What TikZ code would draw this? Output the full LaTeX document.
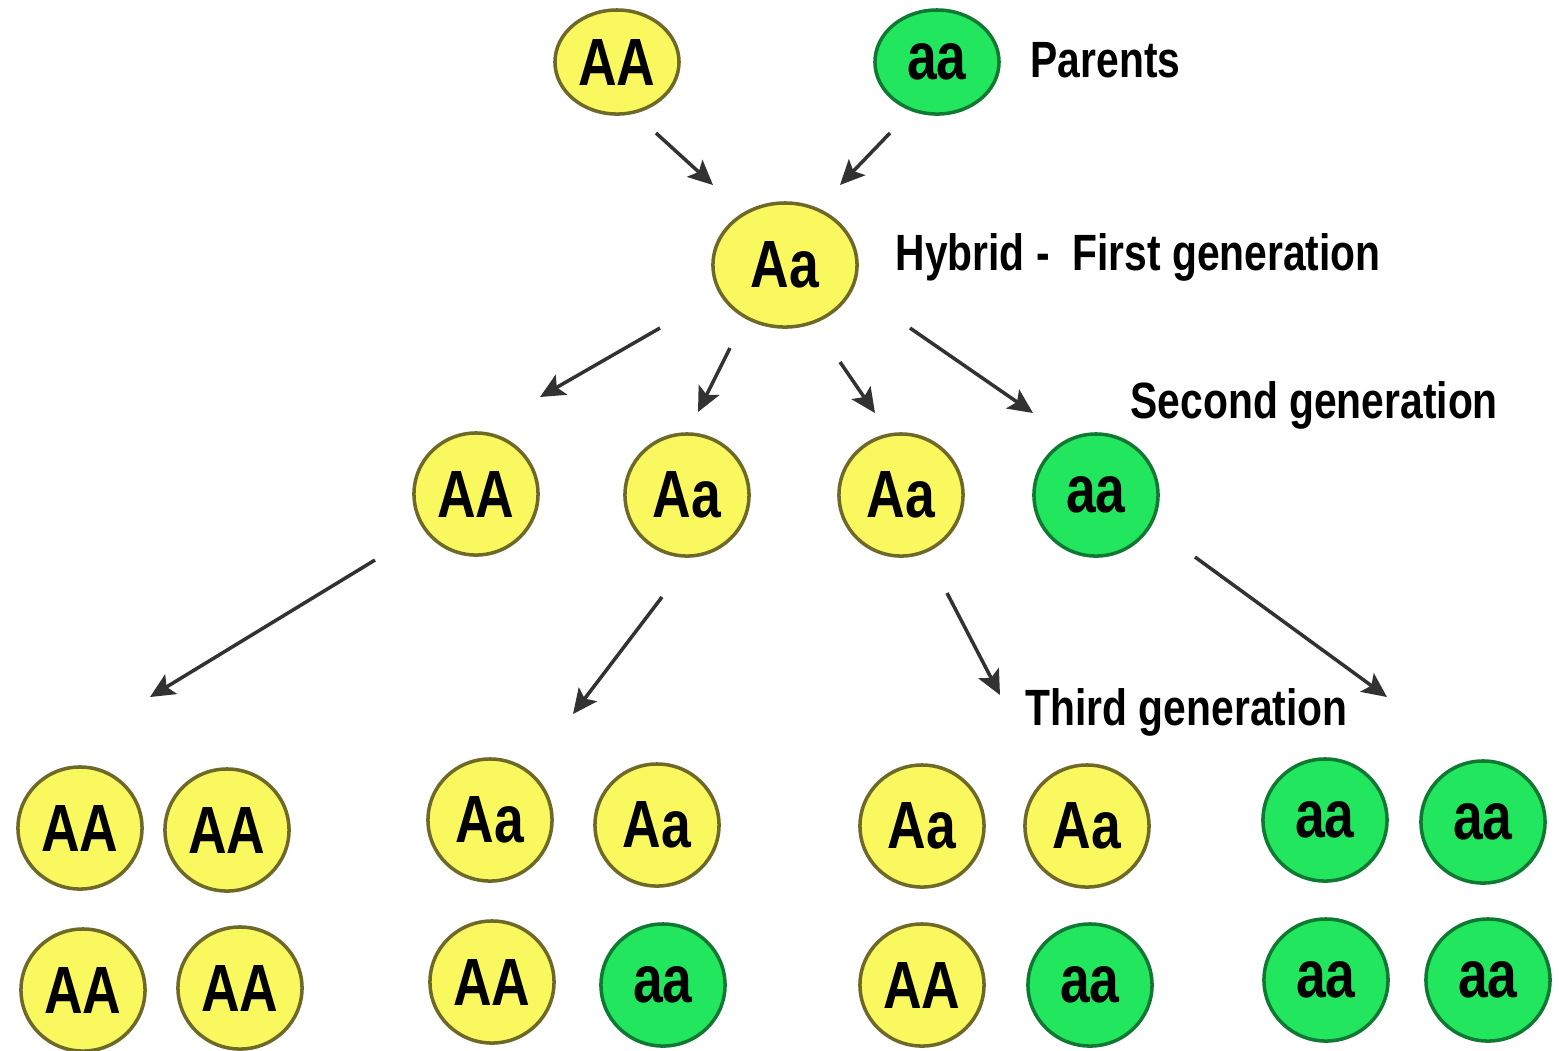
\documentclass[tikz,border=0pt]{standalone}
\usepackage{fontspec}
\setmainfont{Liberation Sans}[FakeStretch=0.8]
\usetikzlibrary{shapes.geometric,arrows.meta}
\definecolor{yfill}{RGB}{250,248,95}
\definecolor{ydraw}{RGB}{110,105,40}
\definecolor{gfill}{RGB}{35,230,95}
\definecolor{gdraw}{RGB}{15,120,50}
\definecolor{arr}{RGB}{50,50,50}
\tikzset{
  allele/.style={ellipse, inner sep=0pt, minimum width=1.24cm, minimum height=1.22cm,
     line width=1pt, font=\fontsize{19}{22}\selectfont\bfseries},
  dom/.style={allele, fill=yfill, draw=ydraw},
  rec/.style={allele, fill=gfill, draw=gdraw},
  lbl/.style={anchor=base west, inner sep=0pt, font=\fontsize{14.5}{17}\selectfont\bfseries},
  arrow/.style={draw=arr, line width=1pt, -{Stealth[length=7pt,width=6.5pt,inset=1.5pt]}}
}
\begin{document}
\begin{tikzpicture}[x=0.01cm,y=-0.01cm]
\useasboundingbox (0,0) rectangle (1559,1050);
% parents
\node[dom, minimum width=1.24cm, minimum height=1.04cm] (p1) at (617,62) {AA};
\node[rec, minimum width=1.24cm, minimum height=1.04cm] (p2) at (937,62) {aa};
\node[lbl] (tpar) at (1030,77) {Parents};
% hybrid
\node[dom, minimum width=1.44cm, minimum height=1.24cm] (h) at (785,265) {Aa};
\node[lbl] (thyb) at (895,270) {Hybrid -\ \ First generation};
% second gen
\node[dom] (s1) at (476,494) {AA};
\node[dom] (s2) at (687,495) {Aa};
\node[dom] (s3) at (901,495) {Aa};
\node[rec] (s4) at (1096,495) {aa};
\node[lbl] (tsec) at (1130,418) {Second generation};
% third gen
\node[dom] (t11) at (80,828) {AA};
\node[dom] (t12) at (227,830) {AA};
\node[dom] (t13) at (83,990) {AA};
\node[dom] (t14) at (240,988) {AA};
\node[dom] (t21) at (490,820) {Aa};
\node[dom] (t22) at (657,825) {Aa};
\node[dom] (t23) at (492,982) {AA};
\node[rec] (t24) at (663,985) {aa};
\node[dom] (t31) at (922,826) {Aa};
\node[dom] (t32) at (1087,826) {Aa};
\node[dom] (t33) at (922,985) {AA};
\node[rec] (t34) at (1090,985) {aa};
\node[rec] (t41) at (1325,820) {aa};
\node[rec] (t42) at (1483,822) {aa};
\node[rec] (t43) at (1326,980) {aa};
\node[rec] (t44) at (1488,980) {aa};
\node[lbl] (tthi) at (1025,725) {Third generation};
% arrow end points
\coordinate (a1s) at (656,133); \coordinate (a1e) at (713,185);
\coordinate (a2s) at (890,133); \coordinate (a2e) at (840,185);
\coordinate (b1s) at (660,328); \coordinate (b1e) at (540,397);
\coordinate (b2s) at (730,348); \coordinate (b2e) at (698,412);
\coordinate (b3s) at (840,362); \coordinate (b3e) at (875,413);
\coordinate (b4s) at (910,328); \coordinate (b4e) at (1033,413);
\coordinate (c1s) at (375,560); \coordinate (c1e) at (150,697);
\coordinate (c2s) at (662,597); \coordinate (c2e) at (573,714);
\coordinate (c3s) at (947,593); \coordinate (c3e) at (1000,695);
\coordinate (c4s) at (1195,557); \coordinate (c4e) at (1387,697);
\foreach \n in {a1,a2,b1,b2,b3,b4,c1,c2,c3,c4}
  \draw[arrow] (\n s) -- (\n e);
\end{tikzpicture}
\end{document}
